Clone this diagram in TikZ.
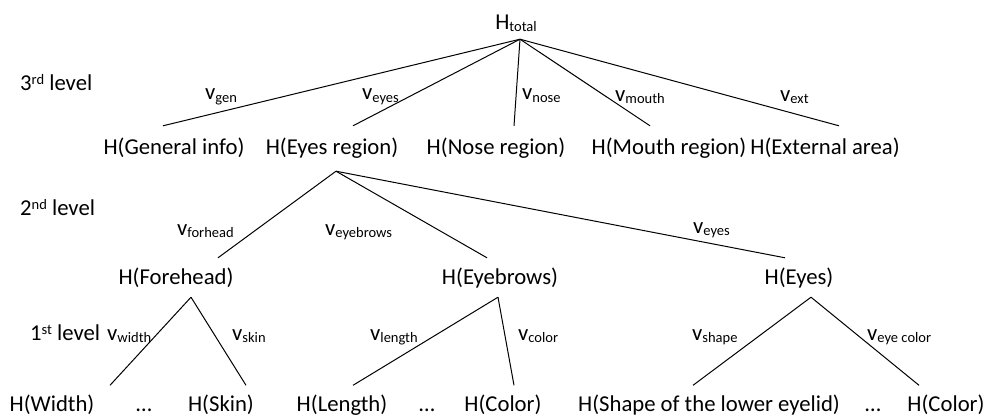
\documentclass[tikz,border=0pt]{standalone}
\usepackage{fontspec}
\setmainfont{Carlito}
\newcommand{\wsub}[1]{\raisebox{-2pt}{\fontsize{14.5pt}{16pt}\selectfont #1}}
\newcommand{\wsup}[1]{\raisebox{6pt}{\fontsize{14.5pt}{16pt}\selectfont #1}}
\begin{document}
\begin{tikzpicture}[x=1pt,y=-1pt,font=\fontsize{22.7pt}{27pt}\selectfont,
    ent/.style={anchor=base,inner sep=0pt,text height=16pt,text depth=3pt,inner ysep=10pt},
    entthree/.style={ent,text depth=5pt,inner ysep=12pt},
    wlbl/.style={anchor=base west,inner sep=0pt},
    link/.style={line width=1pt}]
        \useasboundingbox (0,0) rectangle (985,417);

        % Level names on the left
        \node[wlbl] (lvthree) at (20,90.5) {3\wsup{rd} level};
        \node[wlbl] (lvtwo) at (20,215) {2\wsup{nd} level};
        \node[wlbl] (lvone) at (30,340) {1\wsup{st} level};

        % Entropy nodes
        \node[ent,text depth=0pt,inner ysep=9pt] (total) at (516,30) {H\wsub{total}};

        \node[entthree] (gen) at (174,154) {H(General info)};
        \node[entthree] (eyesreg) at (332,154) {H(Eyes region)};
        \node[entthree] (nosereg) at (496,154) {H(Nose region)};
        \node[entthree] (mouthreg) at (669,154) {H(Mouth region)};
        \node[entthree] (extarea) at (825,154) {H(External area)};

        \node[ent] (forehead) at (176,284) {H(Forehead)};
        \node[ent] (eyebrows) at (500,284) {H(Eyebrows)};
        \node[ent] (eyes) at (799,284) {H(Eyes)};

        \node[ent] (width) at (52,411.5) {H(Width)};
        \node[ent] (dotsa) at (144,411.5) {…};
        \node[ent] (skin) at (221,411.5) {H(Skin)};
        \node[ent] (length) at (342,411.5) {H(Length)};
        \node[ent] (dotsb) at (427,411.5) {…};
        \node[ent] (colora) at (503,411.5) {H(Color)};
        \node[ent] (shape) at (709,411.5) {H(Shape of the lower eyelid)};
        \node[ent] (dotsc) at (873,411.5) {…};
        \node[ent] (colorb) at (946,411.5) {H(Color)};

        % Branches of the 3rd level
        \draw[link] ([xshift=4pt]total.south) -- ([xshift=-11pt]gen.north);
        \draw[link] ([xshift=4pt]total.south) -- ([xshift=21pt]eyesreg.north);
        \draw[link] ([xshift=4pt]total.south) -- ([xshift=18pt]nosereg.north);
        \draw[link] ([xshift=4pt]total.south) -- ([xshift=-19pt]mouthreg.north);
        \draw[link] ([xshift=4pt]total.south) -- ([xshift=14pt]extarea.north);

        % Branches of the 2nd level
        \draw[link] ([xshift=4pt]eyesreg.south) -- ([xshift=42pt]forehead.north);
        \draw[link] ([xshift=4pt]eyesreg.south) -- ([xshift=-13pt]eyebrows.north);
        \draw[link] ([xshift=4pt]eyesreg.south) -- ([xshift=-14pt]eyes.north);

        % Branches of the 1st level
        \draw[link] ([xshift=15pt]forehead.south) -- ([xshift=58pt]width.north);
        \draw[link] ([xshift=15pt]forehead.south) -- ([xshift=25pt]skin.north);
        \draw[link] ([xshift=-2pt]eyebrows.south) -- ([xshift=11pt]length.north);
        \draw[link] ([xshift=-2pt]eyebrows.south) -- ([xshift=11pt]colora.north);
        \draw[link] ([xshift=12pt]eyes.south) -- ([xshift=-16pt]shape.north);
        \draw[link] ([xshift=12pt]eyes.south) -- ([xshift=-27pt]colorb.north);

        % Weights on the branches
        \node[wlbl] (vgen) at (205,100) {v\wsub{gen}};
        \node[wlbl] (veyesa) at (362,100) {v\wsub{eyes}};
        \node[wlbl] (vnose) at (522,100) {v\wsub{nose}};
        \node[wlbl] (vmouth) at (615,101.5) {v\wsub{mouth}};
        \node[wlbl] (vext) at (780,101.5) {v\wsub{ext}};

        \node[wlbl] (vforhead) at (177,235) {v\wsub{forhead}};
        \node[wlbl] (veyebrows) at (325,235) {v\wsub{eyebrows}};
        \node[wlbl] (veyesb) at (693,233) {v\wsub{eyes}};

        \node[wlbl] (vwidth) at (107,340) {v\wsub{width}};
        \node[wlbl] (vskin) at (232,340) {v\wsub{skin}};
        \node[wlbl] (vlength) at (370,340) {v\wsub{length}};
        \node[wlbl] (vcolor) at (518,340) {v\wsub{color}};
        \node[wlbl] (vshape) at (692,340) {v\wsub{shape}};
        \node[wlbl] (veyecolor) at (867,340) {v\wsub{eye color}};
    \end{tikzpicture}
\end{document}
